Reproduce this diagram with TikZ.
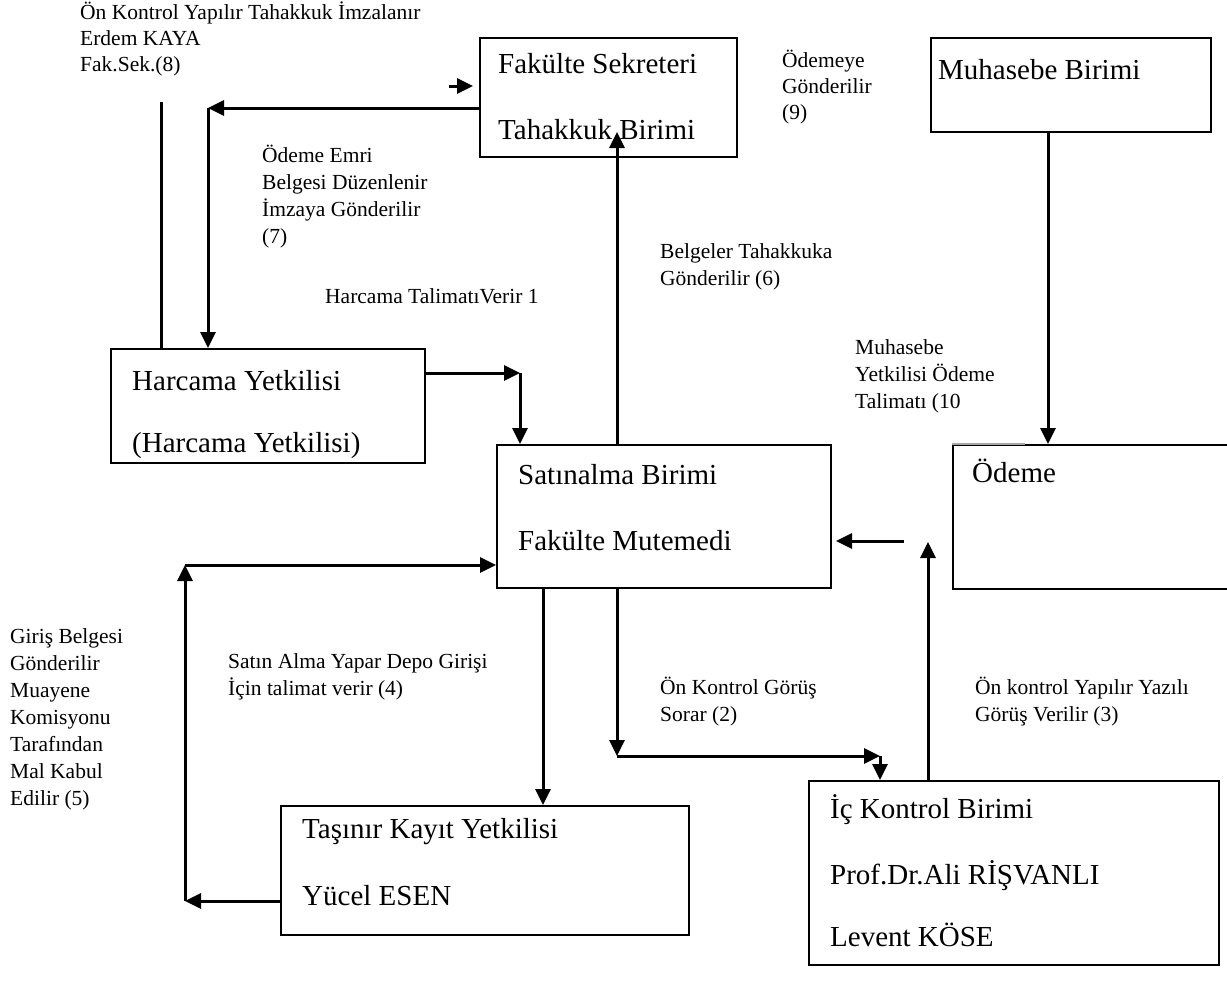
\documentclass[tikz,border=0pt]{standalone}
\usepackage{fontspec}
\setmainfont{Liberation Serif}
\usetikzlibrary{arrows.meta}
\newcommand{\mlines}[1]{\begin{tabular}[t]{@{}l@{}}#1\end{tabular}}
\begin{document}
\begin{tikzpicture}[x=1pt,y=-1pt,
  box/.style={draw=black, line width=1.8pt, inner sep=0pt, anchor=north west},
  btxt/.style={anchor=base west, inner sep=0pt, font=\fontsize{29}{33}\selectfont},
  lbl/.style={anchor=base west, inner sep=0pt, font=\fontsize{21.5}{27}\selectfont},
  lbltop/.style={anchor=base west, inner sep=0pt, font=\fontsize{21.5}{26}\selectfont},
  conn/.style={line width=3pt, -{Triangle[length=16pt,width=15pt]}},
  plain/.style={line width=3pt}]
\useasboundingbox[fill=white] (0,0) rectangle (1227,996);

% boxes
\node[box, minimum width=257, minimum height=119] (fak) at (479,37) {};
\node[btxt] (fakA) at (498,73) {Fakülte Sekreteri};
\node[btxt] (fakB) at (498,139) {Tahakkuk Birimi};

\node[box, minimum width=280, minimum height=94] (muh) at (930,37) {};
\node[btxt] (muhA) at (938,79) {Muhasebe Birimi};

\node[box, minimum width=314, minimum height=114] (harc) at (110,348) {};
\node[btxt] (harcA) at (132,390) {Harcama Yetkilisi};
\node[btxt] (harcB) at (132,452) {(Harcama Yetkilisi)};

\node[box, minimum width=334, minimum height=143] (sat) at (496,444) {};
\node[btxt] (satA) at (518,484) {Satınalma Birimi};
\node[btxt] (satB) at (518,550) {Fakülte Mutemedi};

\node[box, minimum width=300, minimum height=144] (ode) at (952,444) {};
\draw[white, line width=2.2pt] (953,444) -- (1025,444);
\draw[black!35, line width=1.2pt] (952,444) -- (1025,444);
\node[btxt] (odeA) at (972,482) {Ödeme};

\node[box, minimum width=408, minimum height=129] (tas) at (280,805) {};
\node[btxt] (tasA) at (302,838) {Taşınır Kayıt Yetkilisi};
\node[btxt] (tasB) at (302,905) {Yücel ESEN};

\node[box, minimum width=410, minimum height=184] (ic) at (808,780) {};
\node[btxt] (icA) at (830,818) {İç Kontrol Birimi};
\node[btxt] (icB) at (830,884) {Prof.Dr.Ali RİŞVANLI};
\node[btxt] (icC) at (830,946) {Levent KÖSE};

% labels
\node[lbltop] (l8) at (80,19) {\mlines{Ön Kontrol Yapılır Tahakkuk İmzalanır\\Erdem KAYA\\Fak.Sek.(8)}};
\node[lbl] (l7) at (262,162) {\mlines{Ödeme Emri\\Belgesi Düzenlenir\\İmzaya Gönderilir\\(7)}};
\node[lbl] (l1) at (325,303) {Harcama TalimatıVerir 1};
\node[lbltop] (l9) at (782,67) {\mlines{Ödemeye\\Gönderilir\\(9)}};
\node[lbl] (l6) at (660,258) {\mlines{Belgeler Tahakkuka\\Gönderilir (6)}};
\node[lbl] (l10) at (855,354) {\mlines{Muhasebe\\Yetkilisi Ödeme\\Talimatı (10}};
\node[lbl] (l5) at (10,643) {\mlines{Giriş Belgesi\\Gönderilir\\Muayene\\Komisyonu\\Tarafından\\Mal Kabul\\Edilir (5)}};
\node[lbl] (l4) at (228,668) {\mlines{Satın Alma Yapar Depo Girişi\\İçin talimat verir (4)}};
\node[lbl] (l2) at (660,694) {\mlines{Ön Kontrol Görüş\\Sorar (2)}};
\node[lbl] (l3) at (975,694) {\mlines{Ön kontrol Yapılır Yazılı\\Görüş Verilir (3)}};

% coordinates
\coordinate (c7) at (208,108);
\coordinate (s8a) at (449,86);
\coordinate (s8b) at (473,86);
\coordinate (t8) at (161,102);
\coordinate (c1) at (520,373);
\coordinate (c6) at (617,132);
\coordinate (c10) at (1048,131);
\coordinate (c9a) at (904,541);
\coordinate (c9b) at (836,541);
\coordinate (c3) at (928,542);
\coordinate (c2a) at (617,756);
\coordinate (c2b) at (880,756);
\coordinate (c4) at (543,600);
\coordinate (c5a) at (185,901);
\coordinate (c5b) at (185,565);

% connectors
\draw[conn] (fak.west |- c7) -- (c7);
\draw[conn] (c7) -- (c7 |- harc.north);
\draw[conn] (s8a) -- (s8b);
\draw[plain] (t8) -- (t8 |- harc.north);
\draw[conn] (harc.east |- c1) -- (c1);
\draw[conn] (c1) -- (c1 |- sat.north);
\draw[conn] (c6 |- sat.north) -- (c6);
\draw[conn] (c10 |- muh.south) -- (c10 |- ode.north);
\draw[conn] (c9a) -- (c9b);
\draw[conn] (c3 |- ic.north) -- (c3);
\draw[conn] (c2a |- sat.south) -- (c2a);
\draw[conn] (c2a) -- (c2b);
\draw[conn] (c2b) -- (c2b |- ic.north);
\draw[conn] (c4 |- sat.south) -- (c4 |- tas.north);
\draw[conn] (tas.west |- c5a) -- (c5a);
\draw[conn] (c5a) -- (c5b);
\draw[conn] (c5b) -- (sat.west |- c5b);
\end{tikzpicture}
\end{document}
